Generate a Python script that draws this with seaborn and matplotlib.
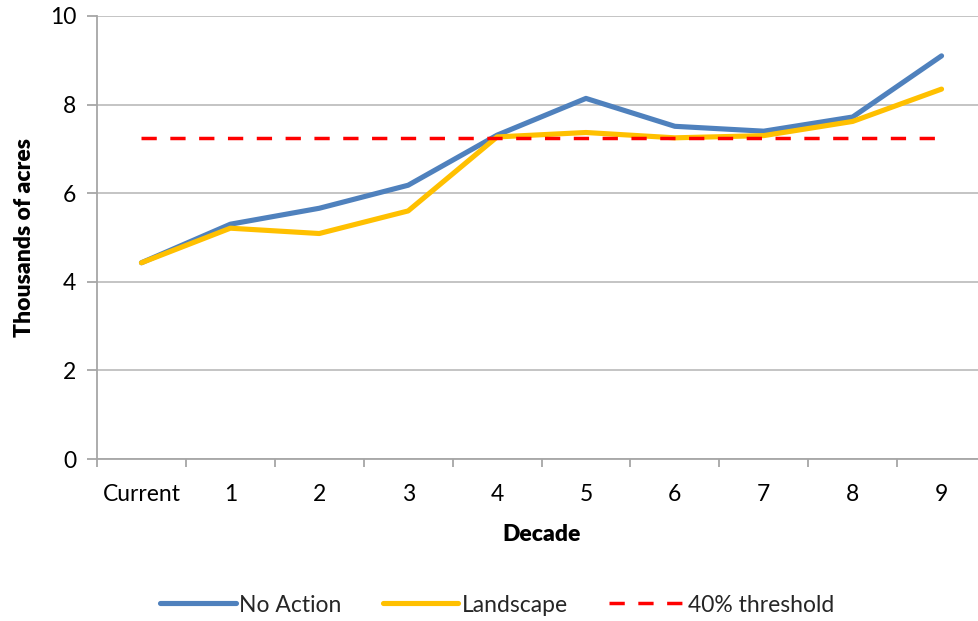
import matplotlib
matplotlib.use("Agg")
import matplotlib.pyplot as plt
import seaborn as sns
import pandas as pd
import numpy as np

categories = ["Current", "1", "2", "3", "4", "5", "6", "7", "8", "9"]
no_action = [4.43, 5.30, 5.66, 6.18, 7.31, 8.14, 7.51, 7.40, 7.72, 9.10]
landscape = [4.43, 5.21, 5.09, 5.60, 7.27, 7.37, 7.25, 7.30, 7.62, 8.35]
threshold = [7.25] * 10

sns.set_theme(style="white")
plt.rcParams['font.family'] = ['Lato', 'DejaVu Sans']

FS = 16.5
fig = plt.figure(figsize=(9.79, 6.21), dpi=100)
ax = fig.add_axes([97/979, 1-459/621, (986-97)/979, (459-16)/621])

pos = np.arange(len(categories))
df = pd.DataFrame({"x": np.tile(pos, 3),
                   "y": no_action + landscape + threshold,
                   "series": ["No Action"]*10 + ["Landscape"]*10 + ["40% threshold"]*10})
palette = {"No Action": "#4f81bd", "Landscape": "#ffc000", "40% threshold": "#ff0000"}
for name, ls, lw in [("No Action", "-", 3.7), ("Landscape", "-", 3.7), ("40% threshold", (0, (4.4, 3.9)), 2.5)]:
    sub = df[df.series == name]
    sns.lineplot(data=sub, x="x", y="y", ax=ax, color=palette[name], linewidth=lw,
                 linestyle=ls, label=name, legend=False, solid_capstyle="round",
                 dash_capstyle="butt")

ax.set_xlim(-0.5, 9.5)
ax.set_ylim(0, 10)
ax.set_yticks([0, 2, 4, 6, 8, 10])
ax.yaxis.grid(True, color="#bfbfbf", linewidth=1.3)
ax.set_xticks(pos)
ax.set_xticklabels(categories)
ax.set_xticks(np.arange(-0.5, 10, 1), minor=True)
ax.tick_params(axis="x", which="major", length=0, pad=18, labelsize=FS, labelcolor="black")
ax.tick_params(axis="x", which="minor", length=6, width=1.3, color="#a6a6a6", direction="out", bottom=True)
ax.tick_params(axis="y", length=7, width=1.3, color="#a6a6a6", direction="out", left=True, labelsize=FS, pad=8, labelcolor="black")
for s in ["top", "right"]:
    ax.spines[s].set_visible(False)
for s in ["left", "bottom"]:
    ax.spines[s].set_color("#a6a6a6")
    ax.spines[s].set_linewidth(1.3)
ax.set_xlabel("Decade", fontsize=FS, fontweight="heavy", labelpad=14, color="black")
ax.set_ylabel("Thousands of acres", fontsize=FS, fontweight="heavy", labelpad=11, color="black")

handles, labels = ax.get_legend_handles_labels()
fig.legend(handles, labels, loc="center", bbox_to_anchor=(0.508, 1-605/621), ncol=3,
           frameon=False, fontsize=FS, handlelength=3.3, handletextpad=0.15, columnspacing=1.8)

fig.savefig("out.png", dpi=100)
